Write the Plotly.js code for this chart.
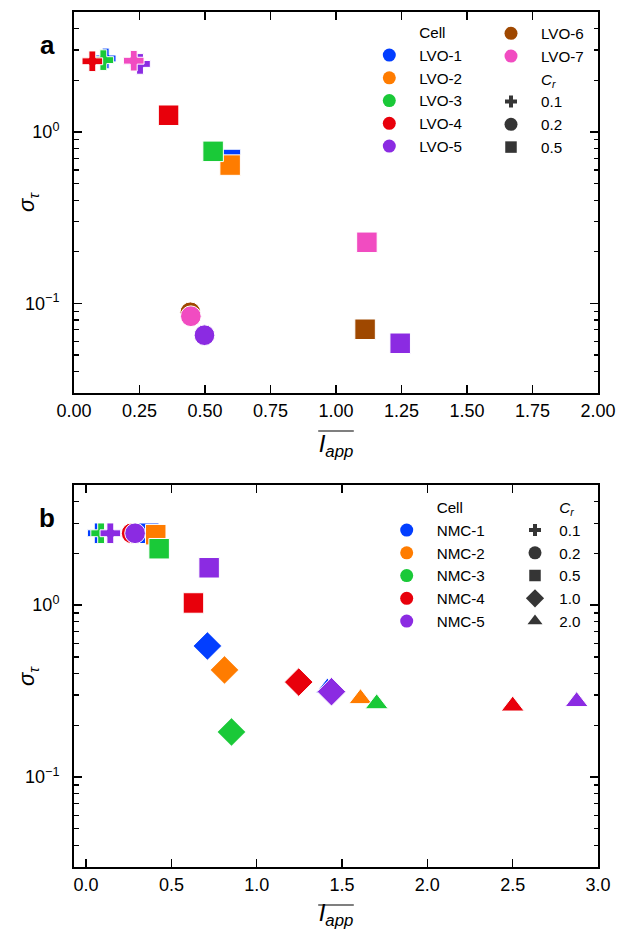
<!DOCTYPE html>
<html><head><meta charset="utf-8">
<script src="https://cdn.plot.ly/plotly-3.0.1.min.js"></script>
<style>html,body{margin:0;padding:0;background:#fff}</style>
</head><body><div id="chart" style="width:619px;height:930px"></div>
<script>
// ---------- data: panel a (LVO) ----------
const lvoCells = ['LVO-1','LVO-2','LVO-3','LVO-4','LVO-5','LVO-6','LVO-7'];
const lvoCell  = ['LVO-1','LVO-1','LVO-2','LVO-3','LVO-3','LVO-4','LVO-4','LVO-5','LVO-5','LVO-5','LVO-6','LVO-6','LVO-7','LVO-7','LVO-7'];
const lvoCr    = [0.1,0.5, 0.5, 0.1,0.5, 0.1,0.5, 0.1,0.2,0.5, 0.2,0.5, 0.1,0.2,0.5];
const lvoIapp  = [0.121,0.597, 0.596, 0.112,0.531, 0.070,0.361, 0.252,0.498,1.245, 0.444,1.111, 0.228,0.446,1.118];
const lvoSigma = [2.68,0.69, 0.64, 2.62,0.77, 2.58,1.25, 2.49,0.0652,0.0585, 0.0887,0.0706, 2.60,0.0841,0.227];
const lvoCrLevels = [0.1,0.2,0.5];

// ---------- data: panel b (NMC) ----------
const nmcCells = ['NMC-1','NMC-2','NMC-3','NMC-4','NMC-5'];
const nmcCell  = ['NMC-1','NMC-1','NMC-1','NMC-1', 'NMC-2','NMC-2','NMC-2', 'NMC-3','NMC-3','NMC-3','NMC-3', 'NMC-4','NMC-4','NMC-4','NMC-4', 'NMC-5','NMC-5','NMC-5','NMC-5','NMC-5'];
const nmcCr    = [0.1,0.5,1.0,2.0, 0.5,1.0,2.0, 0.1,0.5,1.0,2.0, 0.2,0.5,1.0,2.0, 0.1,0.2,0.5,1.0,2.0];
const nmcIapp  = [0.068,0.367,0.711,1.414, 0.408,0.811,1.608, 0.088,0.428,0.852,1.703, 0.267,0.629,1.246,2.50, 0.142,0.287,0.721,1.438,2.875];
const nmcSigma = [2.62,2.62,0.579,0.33, 2.57,0.42,0.286, 2.62,2.13,0.183,0.267, 2.62,1.03,0.357,0.259, 2.62,2.62,1.65,0.314,0.275];
const nmcCrLevels = [0.1,0.2,0.5,1.0,2.0];

// ---------- axis ticks ----------
const xTicksA = [0,0.25,0.5,0.75,1,1.25,1.5,1.75,2];
const xTicksB = [0,0.5,1,1.5,2,2.5,3];
const yTickVals = [0.1, 1];
const yTickText = ['10<sup>\u22121</sup>', '10<sup>0</sup>'];
const yMinorVals = [0.03,0.04,0.05,0.06,0.07,0.08,0.09,0.2,0.3,0.4,0.5,0.6,0.7,0.8,0.9,2,3,4,5];

// ---------- styles ----------
const palette = ['#023eff','#ff7c00','#1ac938','#e8000b','#8b2be2','#9f4800','#f14cc1'];
const symbolOf = {0.1:'cross',0.2:'circle',0.5:'square',1:'diamond',2:'triangle-up'};
const sizeOf   = {0.1:17.2,0.2:20.7,0.5:20.5,1:22,2:20};
const legSizeOf= {0.1:10,0.2:13,0.5:11.5,1:14,2:13};
const FONT = 'Liberation Sans, Arial, sans-serif';
const XT_FS = 24;

const L=74, R=21, T=12, B=63, W=619, H=930;
const PW = W-L-R, PH = H-T-B;
const px2x = p => (p-L)/PW;
const px2y = p => (H-B-p)/PH;

const traces = [];
function addPanel(cells, cellArr, crArr, xArr, yArr, xa, ya){
  cells.forEach((c, ci) => {
    const idx = cellArr.map((v,i)=>v===c?i:-1).filter(i=>i>=0);
    if(!idx.length) return;
    traces.push({
      type:'scatter', mode:'markers', xaxis:xa, yaxis:ya, showlegend:false, hoverinfo:'skip',
      x: idx.map(i=>xArr[i]), y: idx.map(i=>yArr[i]),
      marker:{color:palette[ci], opacity:1, symbol: idx.map(i=>symbolOf[crArr[i]]), size: idx.map(i=>sizeOf[crArr[i]]),
              line:{color:'#ffffff', width:1}}
    });
  });
}
addPanel(lvoCells, lvoCell, lvoCr, lvoIapp, lvoSigma, 'x', 'y');
addPanel(nmcCells, nmcCell, nmcCr, nmcIapp, nmcSigma, 'x2', 'y2');

function legItem(name, legend, xa, ya, color, symbol, size){
  traces.push({type:'scatter', mode:'markers', x:[null], y:[null], xaxis:xa, yaxis:ya, name:name, legend:legend,
    showlegend:true, hoverinfo:'skip', marker:{color:color, opacity:1, symbol:symbol, size:size, line:{width:0}}});
}
const CLEAR = 'rgba(0,0,0,0)', DARK = '#353535';
const CrHead = '<i>C<sub>r</sub></i>';
legItem('Cell','legend','x','y',CLEAR,'circle',13);
lvoCells.slice(0,5).forEach((c,i)=>legItem(c,'legend','x','y',palette[i],'circle',13));
lvoCells.slice(5).forEach((c,i)=>legItem(c,'legend2','x','y',palette[i+5],'circle',13));
legItem(CrHead,'legend2','x','y',CLEAR,'circle',13);
lvoCrLevels.forEach(v=>legItem(v.toFixed(1),'legend2','x','y',DARK,symbolOf[v],legSizeOf[v]));
legItem('Cell','legend3','x2','y2',CLEAR,'circle',13);
nmcCells.forEach((c,i)=>legItem(c,'legend3','x2','y2',palette[i],'circle',13));
legItem(CrHead,'legend4','x2','y2',CLEAR,'circle',13);
nmcCrLevels.forEach(v=>legItem(v.toFixed(1),'legend4','x2','y2',DARK,symbolOf[v],legSizeOf[v]));

function leg(xpx, ypx, iw){
  return {x:px2x(xpx), y:px2y(ypx), xanchor:'left', yanchor:'top', bgcolor:CLEAR, borderwidth:0,
          font:{size:15.2, color:'#000', family:FONT}, itemwidth:iw, tracegroupgap:0, traceorder:'normal',
          itemclick:false, itemdoubleclick:false};
}

const xTitle = '<i>I</i><sub><i>app</i></sub>';
const yTitle = '<i>\u03c3</i><sub><i>\u03c4</i></sub>';
function xaxis(range, ticks, fmt, anchor){
  return {range:range, anchor:anchor, tickmode:'array', tickvals:ticks, ticktext:ticks.map(v=>v.toFixed(fmt)),
    showline:true, mirror:'ticks', linewidth:2, linecolor:'#000', ticks:'inside', ticklen:8, tickwidth:1.5,
    tickcolor:'#000', showgrid:false, zeroline:false, tickfont:{size:18, color:'#000', family:FONT},
    title:{text:xTitle, font:{size:XT_FS, color:'#000', family:FONT}, standoff:15.8}};
}
function yaxis(domain, anchor){
  return {type:'log', range:[Math.log10(0.03), Math.log10(5)], domain:domain, anchor:anchor,
    tickmode:'array', tickvals:yTickVals, ticktext:yTickText,
    minor:{tickmode:'array', tickvals:yMinorVals, ticks:'inside', ticklen:4.5, tickwidth:1.2, tickcolor:'#000', showgrid:false},
    showline:true, mirror:'ticks', linewidth:2, linecolor:'#000', ticks:'inside', ticklen:8, tickwidth:1.5,
    tickcolor:'#000', showgrid:false, zeroline:false, tickfont:{size:18, color:'#000', family:FONT},
    ticklabelstandoff:9};
}

const annFont = {color:'#000', family:FONT};
// overline above the x-axis titles (title spans 318.7-353.3 px; "I" cap top at 435 / 909 px)
const overline = yPx => ({type:'line', xref:'paper', yref:'paper', x0:px2x(318.2), x1:px2x(353.8),
  y0:px2y(yPx), y1:px2y(yPx), line:{color:'#000', width:1.2}});

const layout = {
  width:W, height:H, margin:{l:L, r:R, t:T, b:B, pad:0}, paper_bgcolor:'#fff', plot_bgcolor:'#fff',
  font:{family:FONT, color:'#000'},
  xaxis: xaxis([0,2], xTicksA, 2, 'y'),
  yaxis: yaxis([px2y(393), 1], 'x'),
  xaxis2: xaxis([-0.071,3.0], xTicksB, 1, 'y2'),
  yaxis2: yaxis([0, px2y(485)], 'x2'),
  legend: leg(359.3, 15.9, 50),
  legend2: leg(481, 16.9, 50),
  legend3: leg(376.7, 490.9, 50),
  legend4: leg(510.7, 490.9, 38.6),
  annotations:[
    {text:'<b>a</b>', xref:'paper', yref:'paper', x:px2x(47), y:px2y(45), xanchor:'center', yanchor:'middle', showarrow:false, font:Object.assign({size:26}, annFont)},
    {text:'<b>b</b>', xref:'paper', yref:'paper', x:px2x(47), y:px2y(518), xanchor:'center', yanchor:'middle', showarrow:false, font:Object.assign({size:26}, annFont)},
    {text:yTitle, xref:'paper', yref:'paper', x:px2x(28), y:px2y(202), xanchor:'center', yanchor:'middle', textangle:-90, showarrow:false, font:Object.assign({size:22}, annFont)},
    {text:yTitle, xref:'paper', yref:'paper', x:px2x(28), y:px2y(676), xanchor:'center', yanchor:'middle', textangle:-90, showarrow:false, font:Object.assign({size:22}, annFont)}
  ],
  shapes:[overline(431), overline(905)],
  showlegend:true
};

Plotly.newPlot('chart', traces, layout, {displayModeBar:false, staticPlot:true});
</script></body></html>
